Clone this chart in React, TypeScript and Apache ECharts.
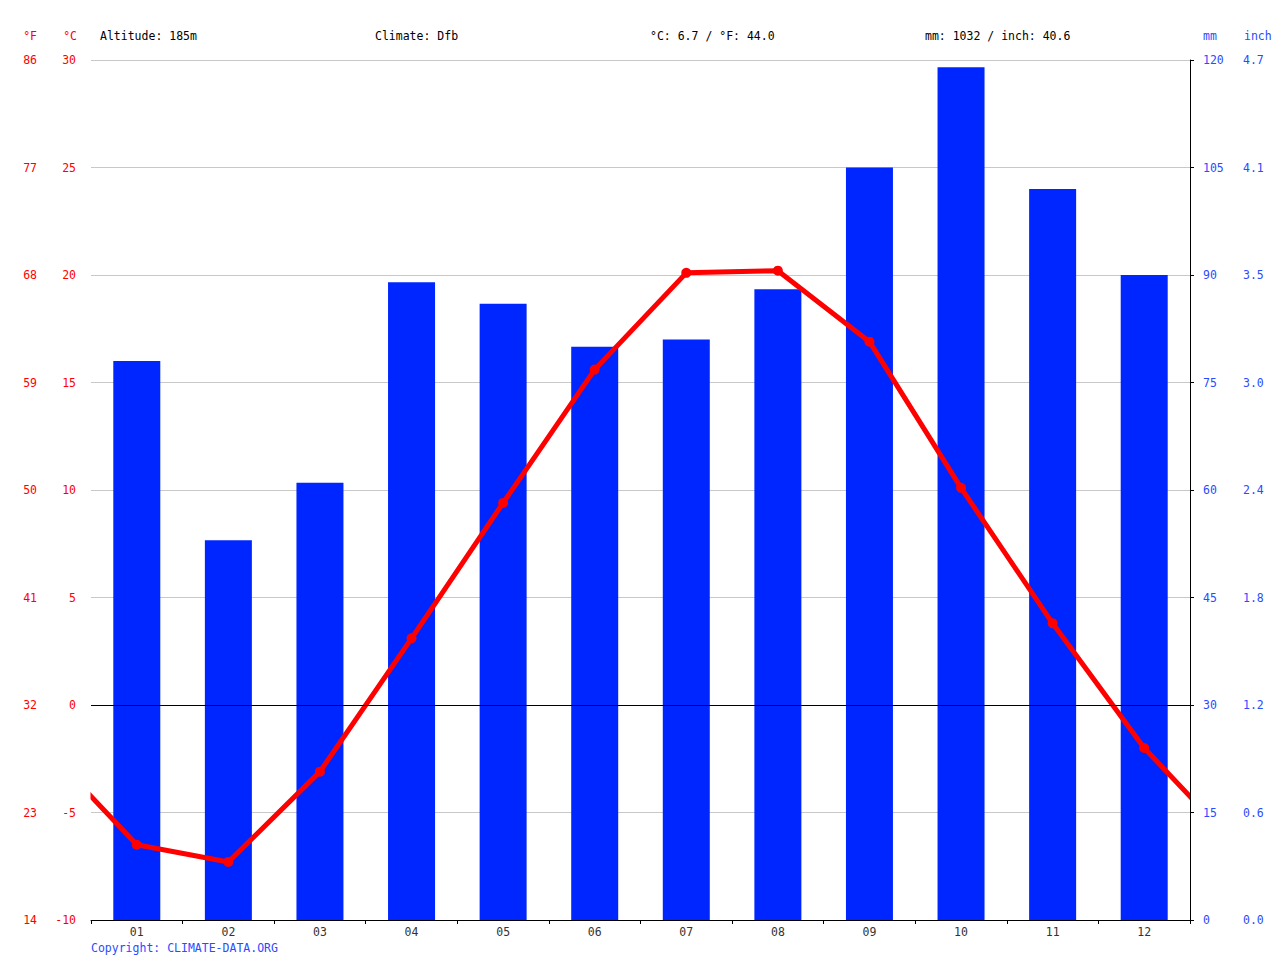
import React, { useEffect, useRef } from "react";
import * as echarts from "echarts";

const months = ["01", "02", "03", "04", "05", "06", "07", "08", "09", "10", "11", "12"];
const precipitationMm = [78, 53, 61, 89, 86, 80, 81, 88, 105, 119, 102, 90];
const temperatureC = [-6.5, -7.3, -3.1, 3.1, 9.4, 15.6, 20.1, 20.2, 16.9, 10.1, 3.8, -2.0];
const altitudeText = "Altitude: 185m";
const climateText = "Climate: Dfb";

const FONT = "DejaVu Sans Mono";
const RED = "#ff0000";
const BLUE = "#0026ff";
const LBLUE = "#2a4bff";

export default function App() {
  const ref = useRef<HTMLDivElement>(null);

  useEffect(() => {
    document.body.style.margin = "0";
    if (!ref.current) return;
    const chart = echarts.init(ref.current, undefined, { renderer: "svg" });

    const meanC = temperatureC.reduce((a, b) => a + b, 0) / temperatureC.length;
    const meanF = meanC * 9 / 5 + 32;
    const totalMm = precipitationMm.reduce((a, b) => a + b, 0);
    const totalIn = totalMm / 25.4;

    // wrap-around points (Dec before Jan, Jan after Dec), clipped by the grid
    const lineData: number[][] = [[-0.5, temperatureC[11]]];
    temperatureC.forEach((t, i) => lineData.push([i + 0.5, t]));
    lineData.push([12.5, temperatureC[0]]);

    const txt = (x: number, y: number, text: string, fill: string, align = "left") => ({
      type: "text",
      x,
      y,
      z: 20,
      style: { text, fill, font: `11.5px "${FONT}"`, textAlign: align, textVerticalAlign: "middle" },
    });
    const mask = (x: number, w: number) => ({
      type: "rect",
      z: 5,
      silent: true,
      shape: { x, y: 50, width: w, height: 860 },
      style: { fill: "#ffffff" },
    });

    chart.setOption({
      animation: false,
      backgroundColor: "#ffffff",
      grid: { left: 91, right: 90, top: 60, bottom: 40 },
      xAxis: [
        {
          type: "category",
          data: months,
          boundaryGap: true,
          axisLine: { show: true, onZero: false, lineStyle: { color: "#000", width: 1 } },
          axisTick: { show: true, length: 4, lineStyle: { color: "#000" } },
          axisLabel: { color: "#333", fontFamily: FONT, fontSize: 11.5, margin: 6 },
          splitLine: { show: false },
          z: 10,
        },
        {
          type: "value",
          min: 0,
          max: 12,
          show: false,
        },
      ],
      yAxis: [
        {
          type: "value",
          position: "left",
          min: -10,
          max: 30,
          interval: 5,
          axisLine: { show: false },
          axisTick: { show: false },
          axisLabel: { color: RED, fontFamily: FONT, fontSize: 11.5, margin: 15 },
          splitLine: { show: true, lineStyle: { color: "#c8c8c8", width: 1 } },
        },
        {
          type: "value",
          position: "left",
          min: -10,
          max: 30,
          interval: 5,
          axisLine: { show: false },
          axisTick: { show: false },
          axisLabel: {
            color: RED,
            fontFamily: FONT,
            fontSize: 11.5,
            margin: 54,
            formatter: (v: number) => String(Math.round(v * 9 / 5 + 32)),
          },
          splitLine: { show: false },
        },
        {
          type: "value",
          position: "right",
          min: 0,
          max: 120,
          interval: 15,
          z: 10,
          axisLine: { show: true, onZero: false, lineStyle: { color: "#000", width: 1 } },
          axisTick: { show: true, length: 4, lineStyle: { color: "#000" } },
          axisLabel: { color: LBLUE, fontFamily: FONT, fontSize: 11.5, margin: 13 },
          splitLine: { show: false },
        },
        {
          type: "value",
          position: "right",
          min: 0,
          max: 120,
          interval: 15,
          z: 10,
          axisLine: { show: false },
          axisTick: { show: false },
          axisLabel: {
            color: LBLUE,
            fontFamily: FONT,
            fontSize: 11.5,
            margin: 53,
            formatter: (v: number) => (v / 25.4).toFixed(1),
          },
          splitLine: { show: false },
        },
      ],
      series: [
        {
          type: "bar",
          name: "mm",
          xAxisIndex: 0,
          yAxisIndex: 2,
          data: precipitationMm,
          barWidth: 47,
          itemStyle: { color: BLUE },
          silent: true,
        },
        {
          type: "line",
          name: "°C",
          xAxisIndex: 1,
          yAxisIndex: 0,
          data: lineData,
          clip: true,
          symbol: "circle",
          symbolSize: 10,
          showSymbol: true,
          lineStyle: { color: RED, width: 5 },
          itemStyle: { color: RED },
          silent: true,
          markLine: {
            silent: true,
            symbol: "none",
            label: { show: false },
            lineStyle: { color: "#000", width: 1, type: "solid" },
            data: [{ yAxis: 0 }],
          },
        },
      ],
      graphic: [
        mask(80, 10.5),
        mask(1190.5, 10),
        txt(37, 36, "°F", RED, "right"),
        txt(77, 36, "°C", RED, "right"),
        txt(100, 36, altitudeText, "#000"),
        txt(375, 36, climateText, "#000"),
        txt(650, 36, `°C: ${meanC.toFixed(1)} / °F: ${meanF.toFixed(1)}`, "#000"),
        txt(925, 36, `mm: ${totalMm} / inch: ${totalIn.toFixed(1)}`, "#000"),
        txt(1203, 36, "mm", LBLUE),
        txt(1244, 36, "inch", LBLUE),
        txt(91, 948, "Copyright: CLIMATE-DATA.ORG", LBLUE),
      ],
    });

    return () => chart.dispose();
  }, []);

  return <div ref={ref} style={{ width: 1280, height: 960 }} />;
}
